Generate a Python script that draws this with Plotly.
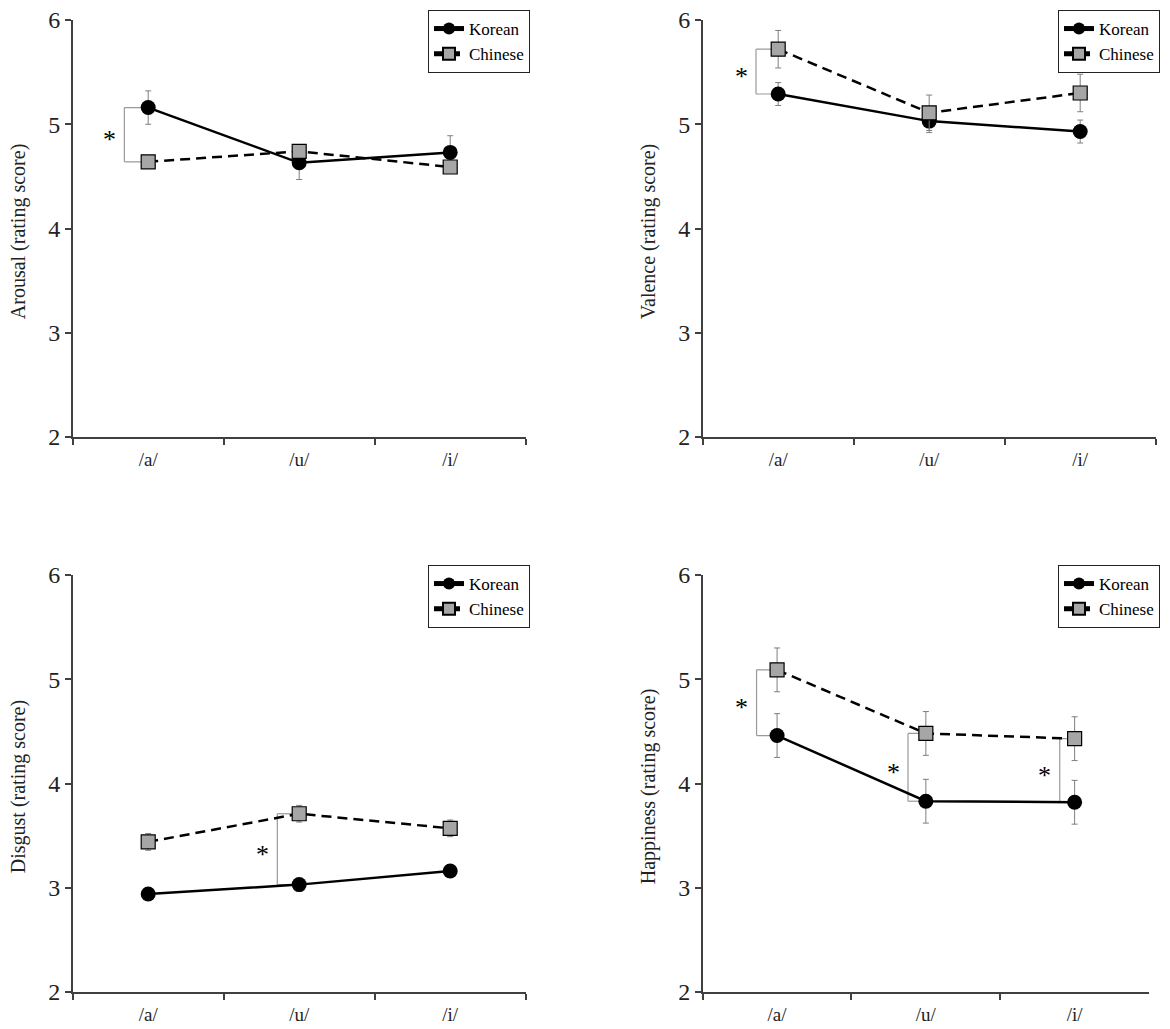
import plotly.graph_objects as go

vowels = ['/a/', '/u/', '/i/']
measures = ['Arousal', 'Valence', 'Disgust', 'Happiness']

# mean ratings and standard errors
korean = {
    'Arousal':   [5.16, 4.63, 4.73],
    'Valence':   [5.29, 5.03, 4.93],
    'Disgust':   [2.94, 3.03, 3.16],
    'Happiness': [4.46, 3.83, 3.82],
}
korean_se = {
    'Arousal':   [0.16, 0.16, 0.16],
    'Valence':   [0.11, 0.11, 0.11],
    'Disgust':   [0.05, 0.05, 0.05],
    'Happiness': [0.21, 0.21, 0.21],
}
chinese = {
    'Arousal':   [4.64, 4.74, 4.59],
    'Valence':   [5.72, 5.11, 5.30],
    'Disgust':   [3.44, 3.71, 3.57],
    'Happiness': [5.09, 4.48, 4.43],
}
chinese_se = {
    'Arousal':   [0.05, 0.05, 0.05],
    'Valence':   [0.18, 0.17, 0.18],
    'Disgust':   [0.08, 0.08, 0.08],
    'Happiness': [0.21, 0.21, 0.21],
}

# significant Korean vs Chinese differences: (measure, vowel index)
significant = [('Arousal', 0), ('Valence', 0), ('Disgust', 1),
               ('Happiness', 0), ('Happiness', 1), ('Happiness', 2)]

FONT = 'Liberation Serif'
W, H = 1170, 1029

# panel placement in pixels: (x0, x1, y_top, y_bottom)
panel_px = [(72.7, 525.7, 20, 437), (702.7, 1155.7, 20, 437),
            (72.7, 525.7, 575, 992), (702.7, 1149, 575, 992)]
legend_right_px = [530, 1160, 530, 1160]
# bracket horizontal offset (in category units) left of the vowel
bracket_off = {('Arousal', 0): -0.158, ('Valence', 0): -0.147,
               ('Disgust', 1): -0.145, ('Happiness', 0): -0.138,
               ('Happiness', 1): -0.12, ('Happiness', 2): -0.10}


def fx(px):
    return px / W


def fy(px):
    return 1 - px / H


fig = go.Figure()
shapes = []
annotations = []

for i, m in enumerate(measures):
    sfx = '' if i == 0 else str(i + 1)
    xa, ya = 'x' + sfx, 'y' + sfx
    leg = 'legend' + sfx

    fig.add_trace(go.Scatter(
        x=vowels, y=korean[m], name='Korean', mode='lines+markers',
        xaxis=xa, yaxis=ya, legend=leg,
        line=dict(color='black', width=2.5),
        marker=dict(symbol='circle', size=15, color='black'),
        error_y=dict(type='data', array=korean_se[m], color='#7f7f7f',
                     thickness=1, width=3),
        cliponaxis=False))
    fig.add_trace(go.Scatter(
        x=vowels, y=chinese[m], name='Chinese', mode='lines+markers',
        xaxis=xa, yaxis=ya, legend=leg,
        line=dict(color='black', width=2.5, dash='10px,6px'),
        marker=dict(symbol='square', size=14, color='#a6a6a6',
                    line=dict(color='black', width=1.2)),
        error_y=dict(type='data', array=chinese_se[m], color='#7f7f7f',
                     thickness=1, width=3),
        cliponaxis=False))

    x0, x1, yt, yb = panel_px[i]
    axis_common = dict(showline=True, linecolor='#404040', linewidth=1.5,
                       showgrid=False, zeroline=False, ticks='outside',
                       ticklen=6, tickcolor='#404040', tickwidth=1.5,
                       automargin=False)
    fig.update_layout({
        'xaxis' + sfx: dict(domain=[fx(x0), fx(x1)], anchor=ya,
                            type='category', categoryarray=vowels,
                            range=[-0.5, 2.5], tickson='boundaries',
                            ticklabelstandoff=4,
                            tickfont=dict(family=FONT, size=19, color='#222'),
                            **axis_common),
        'yaxis' + sfx: dict(domain=[fy(yb), fy(yt)], anchor=xa,
                            range=[2, 6], tickvals=[2, 3, 4, 5, 6],
                            tickfont=dict(family=FONT, size=24, color='#222'),
                            **axis_common),
        leg: dict(x=fx(legend_right_px[i]), y=fy(yt - 10), xanchor='right',
                  yanchor='top', bgcolor='white', bordercolor='#222',
                  borderwidth=1, tracegroupgap=0, itemsizing='constant',
                  font=dict(family=FONT, size=17, color='black')),
    })

    annotations.append(dict(
        text=f'{m} (rating score)', textangle=-90, xref='paper', yref='paper',
        x=fx(x0 - 54), y=fy((yt + yb) / 2 + 3), xanchor='center',
        yanchor='middle', showarrow=False,
        font=dict(family=FONT, size=20, color='#222')))

for m, v in significant:
    i = measures.index(m)
    sfx = '' if i == 0 else str(i + 1)
    xa, ya = 'x' + sfx, 'y' + sfx
    bx = v + bracket_off[(m, v)]
    lo, hi = korean[m][v], chinese[m][v]
    line = dict(color='#999999', width=1.2)
    shapes.append(dict(type='line', xref=xa, yref=ya, x0=bx, x1=bx,
                       y0=lo, y1=hi, line=line, layer='below'))
    for yy in (lo, hi):
        shapes.append(dict(type='line', xref=xa, yref=ya, x0=bx, x1=v,
                           y0=yy, y1=yy, line=line, layer='below'))
    annotations.append(dict(
        text='*', xref=xa, yref=ya, x=bx, y=(lo + hi) / 2, xshift=-15,
        yshift=-5, showarrow=False,
        font=dict(family=FONT, size=26, color='black')))

fig.update_layout(
    width=W, height=H, margin=dict(l=0, r=0, t=0, b=0, autoexpand=False),
    plot_bgcolor='white', paper_bgcolor='white',
    shapes=shapes, annotations=annotations,
)

# drop the default page margin so the figure sits at the window corner
fig.write_html('out.html', config={'displayModeBar': False},
               post_script="document.body.style.margin='0';")
